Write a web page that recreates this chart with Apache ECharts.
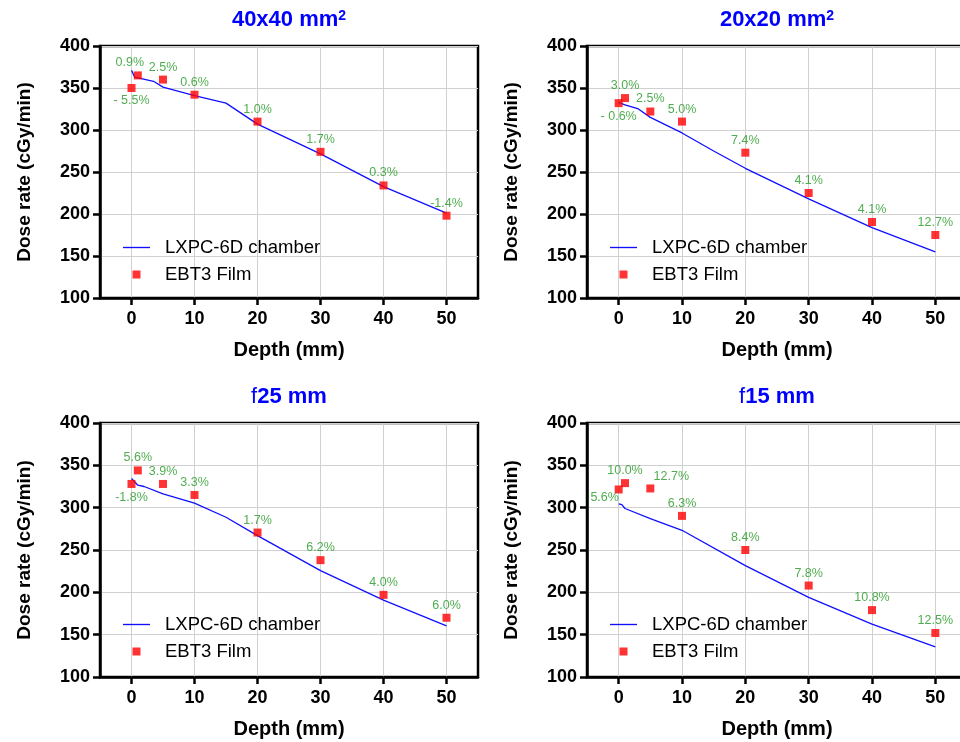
<!DOCTYPE html>
<html>
<head>
<meta charset="utf-8">
<script src="https://cdn.jsdelivr.net/npm/echarts@6/dist/echarts.min.js"></script>
<style>
  html, body { margin: 0; padding: 0; background: #fff; }
  #chart { width: 960px; height: 742px; }
</style>
</head>
<body>
<div id="chart"></div>
<script>
// Depths (mm) at which EBT3 film was read out
const filmDepths = [0, 1, 5, 10, 20, 30, 40, 50];

// EBT3 film dose rates (cGy/min) for each field
const film40 = [350, 365, 360, 342, 310, 274, 234, 198];
const film20 = [332, 338, 322, 310, 273, 225, 190.5, 175];
const film25 = [328, 344, 328, 315, 270.6, 238, 197, 170];
const film15 = [321.5, 329, 322.7, 290.3, 250, 208, 179, 152];

// Film vs. chamber differences printed next to each film point
const diff40 = ['- 5.5%', '0.9%', '2.5%', '0.6%', '1.0%', '1.7%', '0.3%', '-1.4%'];
const diff20 = ['- 0.6%', '3.0%', '2.5%', '5.0%', '7.4%', '4.1%', '4.1%', '12.7%'];
const diff25 = ['-1.8%', '5.6%', '3.9%', '3.3%', '1.7%', '6.2%', '4.0%', '6.0%'];
const diff15 = ['5.6%', '10.0%', '12.7%', '6.3%', '8.4%', '7.8%', '10.8%', '12.5%'];

// LXPC-6D chamber depth-dose curves
const chamberDepths40 = [0, 0.5, 3.5, 5, 10, 15, 20, 30, 40, 50];
const chamber40 = [371, 363, 358, 351, 341, 332, 307, 271.5, 232.5, 201];
const chamberDepths20 = [0, 1, 3, 5, 10, 15, 20, 30, 40, 50];
const chamber20 = [333, 330, 325.5, 315, 296.5, 275, 254.4, 218, 183.7, 154.8];
const chamberDepths25 = [0, 1, 2, 5, 10, 15, 20, 30, 40, 50];
const chamber25 = [334.5, 326.5, 325, 316.3, 305.3, 288.7, 267, 225.6, 190.8, 160.5];
const chamberDepths15 = [0, 0.5, 1, 5, 10, 20, 30, 40, 50];
const chamber15 = [304.5, 303.5, 299, 287, 273.3, 231.5, 194, 162.4, 135.6];

// Axis ticks
const depthTicks = [0, 10, 20, 30, 40, 50];
const doseTicks = [100, 150, 200, 250, 300, 350, 400];

const FONT = '"Liberation Sans", Arial, Helvetica, sans-serif';
const GREEN = '#239823';
const BLUE = '#1010ff';

const panels = [
  { title: '{b|40x40 mm}{s|2}', film: film40, diff: diff40, cx: chamberDepths40, cy: chamber40,
    grid: { left: 100, top: 46, width: 378, height: 252 } },
  { title: '{b|20x20 mm}{s|2}', film: film20, diff: diff20, cx: chamberDepths20, cy: chamber20,
    grid: { left: 587, top: 46, width: 380, height: 252 } },
  { title: '{a|f}{b|25 mm}', film: film25, diff: diff25, cx: chamberDepths25, cy: chamber25,
    grid: { left: 100, top: 423, width: 378, height: 254 } },
  { title: '{a|f}{b|15 mm}', film: film15, diff: diff15, cx: chamberDepths15, cy: chamber15,
    grid: { left: 587, top: 423, width: 380, height: 254 } }
];

// Per-panel label placement tweaks (panel index -> point index -> label options)
const labelTweaks = {
  0: { 0: { position: 'bottom', distance: 2 }, 1: { offset: [-8, 0] } },
  1: { 0: { position: 'bottom', distance: 3 } },
  2: { 0: { position: 'bottom', distance: 3 } },
  3: { 0: { position: 'bottom', distance: 0, offset: [-14, -2] }, 2: { offset: [21, 1] } }
};

const option = {
  animation: false,
  backgroundColor: '#fff',
  textStyle: { fontFamily: FONT },
  title: [],
  legend: [],
  grid: [],
  xAxis: [],
  yAxis: [],
  series: []
};

panels.forEach((p, i) => {
  const g = p.grid;
  option.grid.push(Object.assign({
    show: true, borderColor: '#000', borderWidth: 2.5, backgroundColor: 'transparent',
    outerBoundsMode: 'none', containLabel: false
  }, g));

  option.title.push({
    text: p.title,
    left: g.left + g.width / 2,
    top: g.top - 37,
    textAlign: 'center',
    padding: 0,
    textStyle: {
      rich: {
        a: { fontFamily: FONT, fontSize: 22, fontWeight: 'normal', color: '#0000ff' },
        b: { fontFamily: FONT, fontSize: 22, fontWeight: 'bold', color: '#0000ff' },
        s: { fontFamily: FONT, fontSize: 14, fontWeight: 'bold', color: '#0000ff', verticalAlign: 'top' }
      }
    }
  });

  option.legend.push({
    orient: 'vertical',
    left: g.left + 23,
    top: g.top + 192,
    padding: 0,
    itemWidth: 27,
    itemHeight: 8,
    itemGap: 8,
    selectedMode: false,
    data: [
      { name: 'LXPC-6D chamber', icon: 'path://M0,0L40,0L40,2L0,2Z' },
      { name: 'EBT3 Film', icon: 'path://M0,0L8,0L8,8L0,8Z' }
    ],
    textStyle: { fontFamily: FONT, fontSize: 18.5, color: '#000', lineHeight: 18, padding: [0, 0, 0, 10] }
  });

  option.xAxis.push({
    type: 'value', gridIndex: i, min: -5, max: 55,
    name: 'Depth (mm)', nameLocation: 'middle', nameGap: 42,
    nameTextStyle: { fontFamily: FONT, fontSize: 20, fontWeight: 'bold', color: '#000' },
    axisLine: { show: true, onZero: false, lineStyle: { color: '#000', width: 2.5 } },
    axisTick: { show: true, inside: false, length: 7, customValues: depthTicks, lineStyle: { color: '#000', width: 2.5 } },
    axisLabel: { show: true, margin: 12, customValues: depthTicks, fontFamily: FONT, fontSize: 18, fontWeight: 'bold', color: '#000' },
    splitLine: { show: true, lineStyle: { color: '#d0d0d0', width: 1 } }
  });

  option.yAxis.push({
    type: 'value', gridIndex: i, min: 100, max: 400, interval: 50,
    name: 'Dose rate (cGy/min)', nameLocation: 'middle', nameGap: 66,
    nameTextStyle: { fontFamily: FONT, fontSize: 19, fontWeight: 'bold', color: '#000' },
    axisLine: { show: true, onZero: false, lineStyle: { color: '#000', width: 2.5 } },
    axisTick: { show: true, inside: false, length: 7, lineStyle: { color: '#000', width: 2.5 } },
    axisLabel: { show: true, margin: 10, fontFamily: FONT, fontSize: 18, fontWeight: 'bold', color: '#000',
      customValues: doseTicks },
    splitLine: { show: true, lineStyle: { color: '#d0d0d0', width: 1 } }
  });

  option.series.push({
    name: 'LXPC-6D chamber', type: 'line', xAxisIndex: i, yAxisIndex: i,
    symbol: 'none', z: 2,
    lineStyle: { color: BLUE, width: 1.3 },
    itemStyle: { color: BLUE },
    data: p.cx.map((x, k) => [x, p.cy[k]])
  });

  const tweaks = labelTweaks[i] || {};
  option.series.push({
    name: 'EBT3 Film', type: 'scatter', xAxisIndex: i, yAxisIndex: i,
    symbol: 'rect', symbolSize: 8, z: 3,
    itemStyle: { color: '#ff0000' },
    label: {
      show: true, position: 'top', distance: 2,
      fontFamily: FONT, fontSize: 12.5, color: GREEN,
      formatter: (prm) => p.diff[prm.dataIndex]
    },
    data: filmDepths.map((x, k) => {
      const item = { value: [x, p.film[k]] };
      if (tweaks[k]) item.label = tweaks[k];
      return item;
    })
  });
});

const chart = echarts.init(document.getElementById('chart'), null, { renderer: 'canvas' });
chart.setOption(option);
</script>
</body>
</html>
